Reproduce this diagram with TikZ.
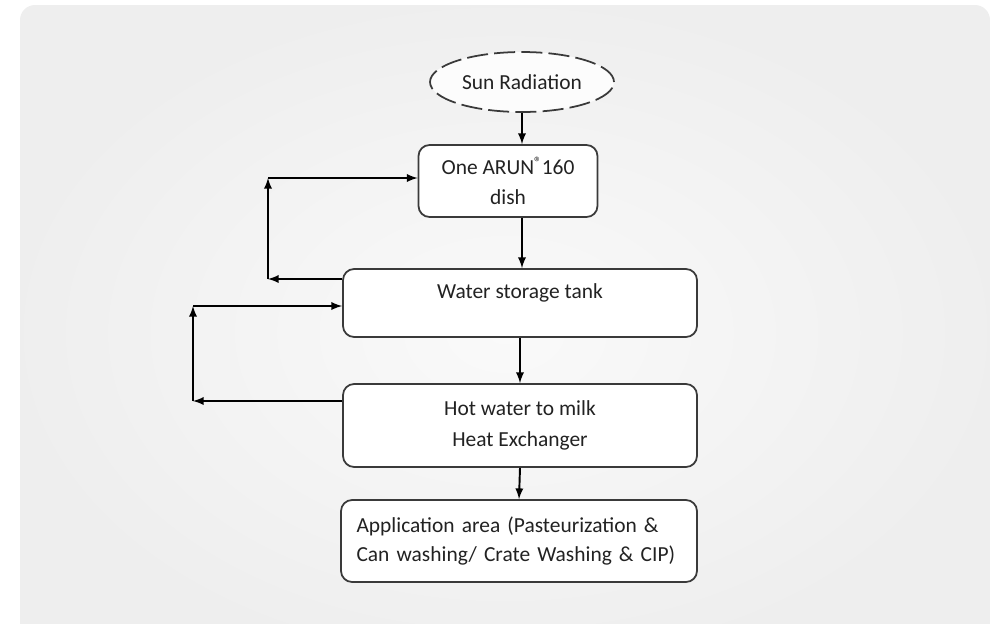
\documentclass[tikz,border=0pt]{standalone}
\usepackage{fontspec}
\setmainfont{Carlito}
\usepackage{tikz}
\usetikzlibrary{arrows}
\usetikzlibrary{shapes}
\usetikzlibrary{positioning}
\usetikzlibrary{calc}
\definecolor{boxline}{HTML}{3A3A3A}
\definecolor{txt}{HTML}{222222}
\tikzset{
    flow/.style={draw=black, line width=1.1pt, -latex},
    stagebox/.style={draw=boxline, fill=white, line width=1pt, rounded corners=0.22cm,
        text=txt, font=\fontsize{12.2}{17}\selectfont, align=center},
    sunshape/.style={ellipse, draw=boxline, fill=gray!2, line width=1pt,
        dash pattern=on 12pt off 3.5pt, inner sep=0pt, text=txt,
        font=\fontsize{12.2}{17}\selectfont},
}

\begin{document}
\begin{tikzpicture}[x=0.02cm, y=-0.02cm]
	\useasboundingbox (0,0) rectangle (997,623);
	\begin{scope}
	\clip (0,0) rectangle (997,623);
	\shade[rounded corners=0.3cm, inner color=gray!4, outer color=gray!13]
		(20,5) rectangle (990,660);
	\end{scope}
	% nodes
	\node[sunshape, minimum width=3.68cm, minimum height=1.2cm] (sun) at (522,82) {Sun Radiation};
	\node[stagebox, minimum width=3.58cm, minimum height=1.44cm] (dish) at (508,181)
		{One ARUN\textsuperscript{\textregistered}\kern-0.5pt160\\dish};
	\node[stagebox, minimum width=7.08cm, minimum height=1.36cm, inner ysep=0pt,
		text height=0.58cm, text depth=0.78cm] (tank) at (520,303) {Water storage tank};
	\node[stagebox, minimum width=7.08cm, minimum height=1.66cm] (hx) at (520,425.5)
		{Hot water to milk\\[1pt]Heat Exchanger};
	\node[stagebox, minimum width=7.12cm, minimum height=1.64cm, text width=6.5cm, align=left]
		(app) at (519,541) {Application area (Pasteurization \&\\Can washing/ Crate Washing \& CIP)};
	% main line
	\draw[flow] (sun.south) -- (sun.south |- dish.north);
	\draw[flow] (sun.south |- dish.south) -- (sun.south |- tank.north);
	\draw[flow] (tank.south) -- (hx.north);
	\draw[flow] (hx.south) -- (app.north);
	% loops
	\coordinate (c1) at (268,279);
	\coordinate (c2) at (268,178);
	\coordinate (c3) at (193,401);
	\coordinate (c4) at (193,306);
	\draw[flow] (tank.west |- c1) -- (c1);
	\draw[flow] (c1) -- (c2);
	\draw[flow] (c2) -- (dish.west |- c2);
	\draw[flow] (hx.west |- c3) -- (c3);
	\draw[flow] (c3) -- (c4);
	\draw[flow] (c4) -- (tank.west |- c4);
\end{tikzpicture}
\end{document}
